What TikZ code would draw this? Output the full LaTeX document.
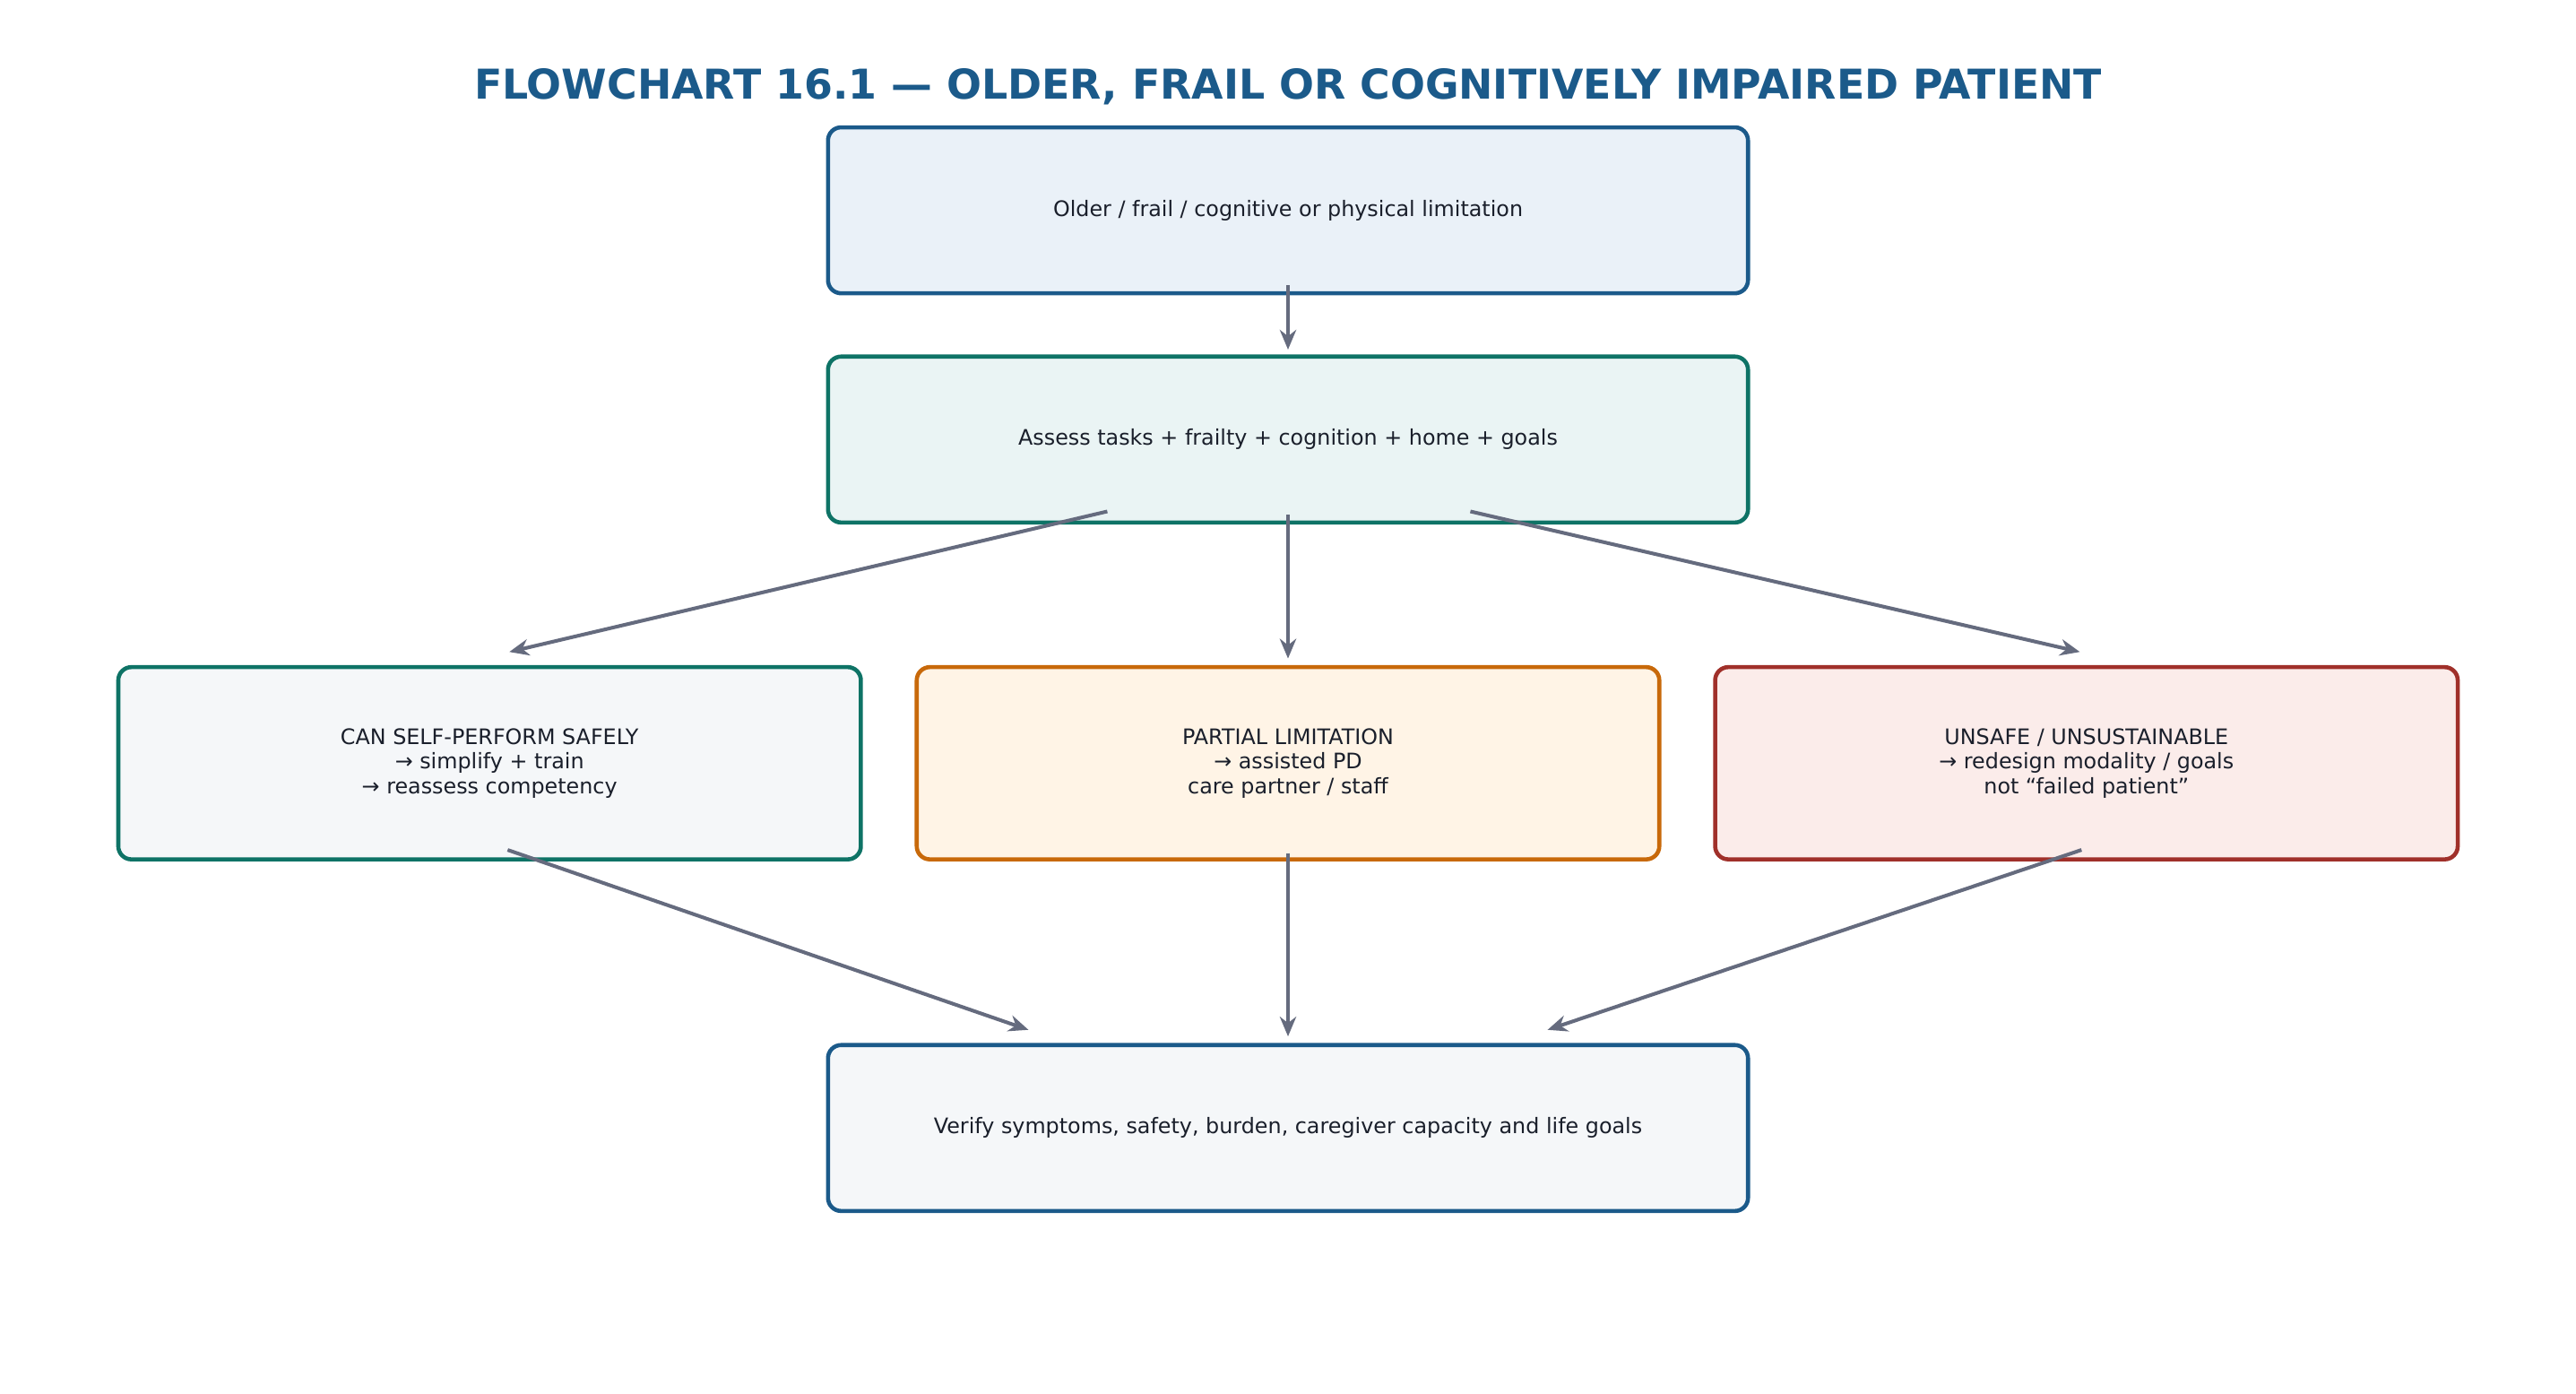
\documentclass[tikz,border=0pt]{standalone}
\usepackage{fontspec}
\setmainfont{DejaVu Sans}
\usetikzlibrary{arrows.meta,calc}
\definecolor{tblue}{HTML}{1B5A8A}
\definecolor{tteal}{HTML}{0E7366}
\definecolor{torange}{HTML}{C8690A}
\definecolor{tred}{HTML}{A0302A}
\definecolor{arr}{HTML}{656B7E}
\definecolor{txt}{HTML}{1A1F2B}
\definecolor{fblue}{HTML}{EAF1F8}
\definecolor{fteal}{HTML}{EAF4F4}
\definecolor{fgrey}{HTML}{F5F7F9}
\definecolor{forange}{HTML}{FFF4E6}
\definecolor{fred}{HTML}{FBECEA}
\tikzset{
 box/.style={draw, line width=2.5pt, rounded corners=8pt, align=center, text=txt,
   font=\fontsize{13}{15}\selectfont, inner sep=0pt},
 wide/.style={box, minimum width=560pt, minimum height=101pt},
 mid/.style={box, minimum width=452pt, minimum height=117pt},
 con/.style={draw=arr, line width=2.2pt, -{Stealth[length=12pt,width=10pt]}},
}
\begin{document}
\begin{tikzpicture}[x=1pt,y=-1pt]
\useasboundingbox[fill=white] (0,0) rectangle (1568,848);
\node[font=\bfseries\fontsize{25}{28}\selectfont, text=tblue] (title) at (784,53) {FLOWCHART 16.1 — OLDER, FRAIL OR COGNITIVELY IMPAIRED PATIENT};
\node[wide, draw=tblue, fill=fblue] (top) at (784,128) {Older / frail / cognitive or physical limitation};
\node[wide, draw=tteal, fill=fteal] (assess) at (784,267.5) {Assess tasks + frailty + cognition + home + goals};
\node[mid, draw=tteal, fill=fgrey] (left) at (298,464.5) {CAN SELF-PERFORM SAFELY\\→ simplify + train\\→ reassess competency};
\node[mid, draw=torange, fill=forange] (midb) at (784,464.5) {PARTIAL LIMITATION\\→ assisted PD\\care partner / staff};
\node[mid, draw=tred, fill=fred] (right) at (1270,464.5) {UNSAFE / UNSUSTAINABLE\\→ redesign modality / goals\\not “failed patient”};
\node[wide, draw=tblue, fill=fgrey] (bottom) at (784,686.5) {Verify symptoms, safety, burden, caregiver capacity and life goals};
\draw[con] ($(top.south)+(0,-6)$) -- ($(assess.north)+(0,-3)$);
\draw[con] ($(assess.south)+(-110,-8)$) -- ($(left.north)+(12,-8)$);
\draw[con] ($(assess.south)+(0,-6)$) -- ($(midb.north)+(0,-4)$);
\draw[con] ($(assess.south)+(111,-8)$) -- ($(right.north)+(-4,-8)$);
\draw[con] ($(left.south)+(11,-7)$) -- ($(bottom.north)+(-158,-8)$);
\draw[con] ($(midb.south)+(0,-5)$) -- ($(bottom.north)+(0,-4)$);
\draw[con] ($(right.south)+(-3,-7)$) -- ($(bottom.north)+(158,-8)$);
\end{tikzpicture}
\end{document}
